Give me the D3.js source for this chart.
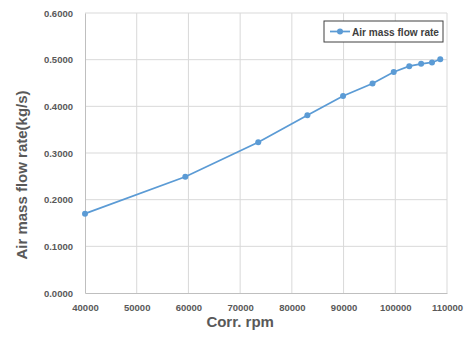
<!DOCTYPE html>
<html>
<head>
<meta charset="utf-8">
<script src="https://cdn.jsdelivr.net/npm/d3@7"></script>
<style>
  body { margin: 0; background: #fff; }
  text { font-family: "Liberation Sans", Arial, sans-serif; }
</style>
</head>
<body>
<script>
/* DATA */
var rpm  = [40000, 59400, 73500, 83000, 89900, 95600, 99700, 102700, 105000, 107100, 108700];
var flow = [0.170, 0.249, 0.323, 0.381, 0.422, 0.449, 0.4735, 0.486, 0.491, 0.494, 0.501];
var xTicks = [40000, 50000, 60000, 70000, 80000, 90000, 100000, 110000];
var yTicks = [0, 0.1, 0.2, 0.3, 0.4, 0.5, 0.6];
var seriesName = "Air mass flow rate";

/* GLOBALS */
var W = 471, H = 345;
var margin = { top: 13, left: 85, bottom: 52, right: 24 };
var width = W - margin.left - margin.right;
var height = H - margin.top - margin.bottom;
var blue = "#5b9bd5", txt = "#595959";

var points = rpm.map(function (r, i) { return { rpm: r, flow: flow[i] }; });

var x = d3.scaleLinear().domain([40000, 110000]).range([0, width]);
var y = d3.scaleLinear().domain([0, 0.6]).range([height, 0]);

var svg = d3.select("body").append("svg")
  .attr("width", W).attr("height", H);

var g = svg.append("g")
  .attr("transform", "translate(" + margin.left + "," + margin.top + ")");

// grid
g.append("g").selectAll("line").data(xTicks.slice(1)).enter().append("line")
  .attr("x1", function (d) { return x(d); }).attr("x2", function (d) { return x(d); })
  .attr("y1", 0).attr("y2", height)
  .attr("stroke", "#d9d9d9").attr("stroke-width", 1);
g.append("g").selectAll("line").data(yTicks.slice(1)).enter().append("line")
  .attr("y1", function (d) { return y(d); }).attr("y2", function (d) { return y(d); })
  .attr("x1", 0).attr("x2", width)
  .attr("stroke", "#d9d9d9").attr("stroke-width", 1);

// axes
var axX = g.append("g").attr("transform", "translate(0," + height + ")")
  .call(d3.axisBottom(x).tickValues(xTicks).tickSize(0).tickPadding(11).tickFormat(d3.format("d")));
var axY = g.append("g")
  .call(d3.axisLeft(y).tickValues(yTicks).tickSize(0).tickPadding(12).tickFormat(d3.format(".4f")));
[axX, axY].forEach(function (a) {
  a.select(".domain").attr("stroke", "#bfbfbf").attr("stroke-width", 1);
  a.selectAll("text").attr("fill", txt).attr("font-size", "9.5px").attr("font-weight", "bold")
    .style("font-family", "'Liberation Sans', Arial, sans-serif");
});

// series
var line = d3.line().x(function (d) { return x(d.rpm); }).y(function (d) { return y(d.flow); });
g.append("path").datum(points)
  .attr("fill", "none").attr("stroke", blue).attr("stroke-width", 1.75).attr("d", line);
g.selectAll("circle.dot").data(points).enter().append("circle")
  .attr("class", "dot").attr("r", 3)
  .attr("cx", function (d) { return x(d.rpm); })
  .attr("cy", function (d) { return y(d.flow); })
  .attr("fill", blue);

// legend
var lg = svg.append("g").attr("transform", "translate(324,21)");
lg.append("rect").attr("width", 119).attr("height", 21)
  .attr("fill", "#fff").attr("stroke", "#404040").attr("stroke-width", 1);
lg.append("line").attr("x1", 6).attr("x2", 26).attr("y1", 10.5).attr("y2", 10.5)
  .attr("stroke", blue).attr("stroke-width", 1.75);
lg.append("circle").attr("cx", 16).attr("cy", 10.5).attr("r", 3).attr("fill", blue);
lg.append("text").attr("x", 28).attr("y", 14.5)
  .attr("font-size", "10px").attr("font-weight", "bold").attr("fill", "#404040")
  .attr("textLength", 87).attr("lengthAdjust", "spacingAndGlyphs")
  .text(seriesName);

// axis titles
svg.append("text").attr("x", margin.left + x(70000)).attr("y", 327)
  .attr("text-anchor", "middle").attr("font-size", "15px").attr("font-weight", "bold")
  .attr("fill", txt).text("Corr. rpm");
svg.append("text")
  .attr("transform", "translate(27,175) rotate(-90)")
  .attr("text-anchor", "middle").attr("font-size", "15px").attr("font-weight", "bold")
  .attr("fill", txt).text("Air mass flow rate(kg/s)");
</script>
</body>
</html>
